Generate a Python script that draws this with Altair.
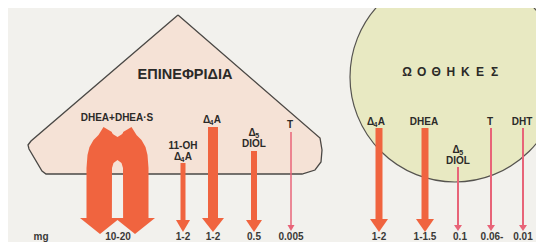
import altair as alt
import pandas as pd

# ---------------- data ----------------
adrenal_title = "ΕΠΙΝΕΦΡΙΔΙΑ"
ovary_title = "ΩΟΘΗΚΕΣ"
unit_label = "mg"
adrenal_labels = ["DHEA+DHEA·S", "11-OH\nΔ₄A", "Δ₄A", "Δ₅\nDIOL", "T"]
adrenal_mg = ["10-20", "1-2", "1-2", "0.5", "0.005"]
ovary_labels = ["Δ₄A", "DHEA", "Δ₅\nDIOL", "T", "DHT"]
ovary_mg = ["1-2", "1-1.5", "0.1", "0.06-", "0.01"]

# ---------------- layout (pixel positions of the diagram) ----------------
W, H = 528, 234
X0, Y0 = 8, 8  # page margin: coordinates below are page pixels

adrenal_arrow_x = [None, 183, 213, 254, 291]
adrenal_arrow_top = [None, 163, 127, 151, 132]
adrenal_arrow_w = [None, 5, 10, 6, 1.5]
adrenal_head_hw = [None, 7, 11, 8, 3.5]
adrenal_head_base = [None, 220, 218, 220, 225]
adrenal_tip = [None, 232, 232, 232, 231]
adrenal_label_x = [117, 183, 212, 254, 290]
adrenal_label_y = [118, 146, 120, 133, 125]
adrenal_value_x = [118, 183, 213, 254, 291]

ovary_arrow_x = [379, 425, 458, 491, 523]
ovary_arrow_top = [128, 128, 167, 128, 128]
ovary_arrow_w = [7, 7, 2, 2, 2]
ovary_head_hw = [9, 9, 4, 4, 4]
ovary_head_base = [219, 219, 225, 225, 225]
ovary_tip = [232, 232, 231, 231, 231]
ovary_label_x = [376, 424, 458, 490, 522]
ovary_label_y = [122, 122, 150, 122, 122]
ovary_value_x = [379, 425, 460, 492, 523]

value_y = 236.5
unit_x = 41

THICK = "#f0643f"
THIN = "#e86478"
TEXT = "#2b2a28"
FONT = "Liberation Sans"
LABEL_SIZE = 10
SUB_SIZE = 7

xs = alt.Scale(domain=[X0, X0 + W])
ys = alt.Scale(domain=[Y0 + H, Y0])


def X(f="x"):
    return alt.X(f"{f}:Q", scale=xs, axis=None)


def Y(f="y"):
    return alt.Y(f"{f}:Q", scale=ys, axis=None)


# ---------------- adrenal triangle ----------------
tri_outline = [(178, 15), (31, 141), (28, 145), (29, 149), (42, 171), (46, 174),
               (302, 174), (315, 170), (321, 162), (322, 150), (320, 138), (178, 15)]
tri_df = pd.DataFrame([{"i": i, "x": p[0], "y": p[1]} for i, p in enumerate(tri_outline)])
tri_fill = pd.DataFrame({
    "x": [28, 31, 42, 46, 178, 302, 315, 320, 321, 322],
    "y": [145, 141, 131.8, 128.4, 15, 121.6, 132.8, 137, 138, 145],
    "y2": [146, 152, 171, 174, 174, 174, 170, 164, 162, 150],
})
tri_area = alt.Chart(tri_fill).mark_area(color="#f5e2d6", opacity=1).encode(
    x=X(), y=Y(), y2="y2:Q")
tri_line = alt.Chart(tri_df).mark_line(color="#4a4845", strokeWidth=1.3).encode(
    x=X(), y=Y(), order="i:Q")

# ---------------- ovary circle ----------------
circ_cx, circ_cy, circ_r = 455, 77, 105
circ_df = pd.DataFrame({"x": [circ_cx], "y": [circ_cy]})
circle = alt.Chart(circ_df).mark_point(
    shape="circle", filled=True, size=(2 * circ_r) ** 2, fill="#e8e9c2", fillOpacity=1,
    stroke="#55534f", strokeWidth=1.2, opacity=1).encode(x=X(), y=Y())

# ---------------- DHEA+DHEA·S U-shaped double arrow ----------------
ucx = 117.5
u_bottom = 219
u_pts = [  # dx from centre, top, bottom (None = arrow base)
    (-31, 168, None), (-30, 155, None), (-28, 147, None), (-24, 140, None), (-19, 135, None),
    (-14, 127, None), (-5.6, 132, None), (-5.5, 133, 168), (-4, 134.5, 163), (0, 137, 160),
    (4, 134.5, 163), (5.5, 133, 168), (5.6, 132, None), (14, 127, None), (19, 135, None),
    (24, 140, None), (28, 147, None), (30, 155, None), (31, 168, None),
]
u_df = pd.DataFrame([{"x": ucx + d, "y": t, "y2": (u_bottom if b is None else b)}
                     for d, t, b in u_pts])
u_body = alt.Chart(u_df).mark_area(color=THICK, opacity=1).encode(x=X(), y=Y(), y2="y2:Q")

heads = []
for hid, (hx, hw, base, tip) in enumerate([(ucx - 17.5, 20, 218, 234), (ucx + 17.5, 20, 218, 234)]):
    heads += [{"id": f"u{hid}", "x": hx - hw, "y": base, "y2": base, "c": THICK},
              {"id": f"u{hid}", "x": hx, "y": base, "y2": tip, "c": THICK},
              {"id": f"u{hid}", "x": hx + hw, "y": base, "y2": base, "c": THICK}]

# ---------------- simple arrows ----------------
shafts = []
groups = [
    (adrenal_arrow_x, adrenal_arrow_top, adrenal_arrow_w, adrenal_head_hw, adrenal_head_base, adrenal_tip, "a"),
    (ovary_arrow_x, ovary_arrow_top, ovary_arrow_w, ovary_head_hw, ovary_head_base, ovary_tip, "o"),
]
for axs, tops, ws, hws, bases, tips, tag in groups:
    for k in range(len(axs)):
        if axs[k] is None:
            continue
        col = THICK if ws[k] >= 4 else THIN
        shafts.append({"x": axs[k], "y": tops[k], "y2": bases[k] + 1, "w": ws[k], "c": col})
        hid = f"{tag}{k}"
        heads += [{"id": hid, "x": axs[k] - hws[k], "y": bases[k], "y2": bases[k], "c": col},
                  {"id": hid, "x": axs[k], "y": bases[k], "y2": tips[k], "c": col},
                  {"id": hid, "x": axs[k] + hws[k], "y": bases[k], "y2": bases[k], "c": col}]

shaft_df = pd.DataFrame(shafts)
shaft_layer = alt.Chart(shaft_df).mark_rule(strokeCap="butt").encode(
    x=X(), y=Y(), y2="y2:Q",
    strokeWidth=alt.StrokeWidth("w:Q", scale=None),
    color=alt.Color("c:N", scale=None))
head_df = pd.DataFrame(heads)
head_layer = alt.Chart(head_df).mark_area(opacity=1).encode(
    x=X(), y=Y(), y2="y2:Q", detail="id:N",
    color=alt.Color("c:N", scale=None))

# ---------------- texts ----------------
SUBS = {"₀": "0", "₁": "1", "₂": "2", "₃": "3", "₄": "4", "₅": "5"}
CHAR_W = {"Δ": 0.66, "A": 0.72, "D": 0.72, "I": 0.28, "O": 0.78, "L": 0.61}

main_rows, sub_rows = [], []
for labels, lx, ly in [(adrenal_labels, adrenal_label_x, adrenal_label_y),
                       (ovary_labels, ovary_label_x, ovary_label_y)]:
    for k, lab in enumerate(labels):
        for j, line in enumerate(lab.split("\n")):
            y = ly[k] + 11 * j
            pos = next((i for i, ch in enumerate(line) if ch in SUBS), None)
            if pos is None:
                main_rows.append({"x": lx[k], "y": y, "t": line, "a": "center"})
                continue
            pre, sub, post = line[:pos], SUBS[line[pos]], line[pos + 1:]
            w_pre = sum(CHAR_W.get(c, 0.62) for c in pre) * LABEL_SIZE
            w_sub = 0.56 * SUB_SIZE + 0.3
            w_post = sum(CHAR_W.get(c, 0.62) for c in post) * LABEL_SIZE
            x0 = lx[k] - (w_pre + w_sub + w_post) / 2
            main_rows.append({"x": x0, "y": y, "t": pre, "a": "left"})
            sub_rows.append({"x": x0 + w_pre, "y": y + 2.5, "t": sub})
            if post:
                main_rows.append({"x": x0 + w_pre + w_sub, "y": y, "t": post, "a": "left"})

main_df = pd.DataFrame(main_rows)
label_c = alt.Chart(main_df[main_df.a == "center"]).mark_text(
    font=FONT, fontSize=LABEL_SIZE, fontWeight="bold", color=TEXT, baseline="middle",
    align="center").encode(x=X(), y=Y(), text="t:N")
label_l = alt.Chart(main_df[main_df.a == "left"]).mark_text(
    font=FONT, fontSize=LABEL_SIZE, fontWeight="bold", color=TEXT, baseline="middle",
    align="left").encode(x=X(), y=Y(), text="t:N")
label_s = alt.Chart(pd.DataFrame(sub_rows)).mark_text(
    font=FONT, fontSize=SUB_SIZE, fontWeight="bold", color=TEXT, baseline="middle",
    align="left").encode(x=X(), y=Y(), text="t:N")

value_rows = [{"x": unit_x, "y": value_y, "t": unit_label}]
value_rows += [{"x": adrenal_value_x[k], "y": value_y, "t": v} for k, v in enumerate(adrenal_mg)]
value_rows += [{"x": ovary_value_x[k], "y": value_y, "t": v} for k, v in enumerate(ovary_mg)]
value_layer = alt.Chart(pd.DataFrame(value_rows)).mark_text(
    font=FONT, fontSize=10, fontWeight="bold", color="#3a3937", baseline="middle", align="center"
).encode(x=X(), y=Y(), text="t:N")

title1 = alt.Chart(pd.DataFrame([{"x": 185, "y": 75, "t": adrenal_title}])).mark_text(
    font=FONT, fontSize=14.5, fontWeight="bold", color=TEXT, baseline="middle", align="center"
).encode(x=X(), y=Y(), text="t:N")
pitch, first_x = 14.6, 407
title2 = alt.Chart(pd.DataFrame([{"x": first_x + pitch * i, "y": 72, "t": ch}
                                 for i, ch in enumerate(ovary_title)])).mark_text(
    font=FONT, fontSize=12, fontWeight="bold", color=TEXT, baseline="middle", align="center"
).encode(x=X(), y=Y(), text="t:N")

chart = alt.layer(
    tri_area, tri_line, circle, u_body, shaft_layer, head_layer,
    label_c, label_l, label_s, value_layer, title1, title2,
).properties(
    width=W, height=H, padding=0, autosize=alt.AutoSizeParams(type="none"),
    background="#f2f1ed",
).configure_view(stroke=None)

chart.save("out.html", embed_options={"renderer": "svg", "actions": False})
